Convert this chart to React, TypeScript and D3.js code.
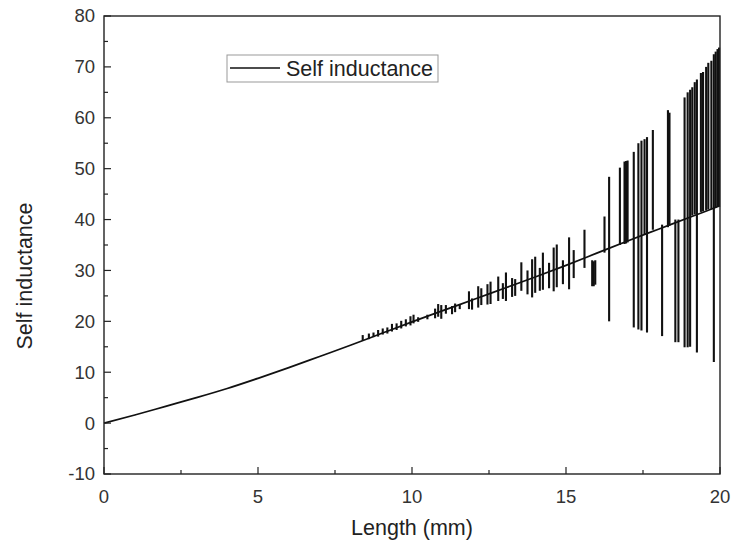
import React from "react";
import * as d3 from "d3";

// smooth part of the curve (Length mm -> Self inductance)
const baseX = [0, 1, 2, 3, 4, 5, 6, 7, 8, 9, 10, 11, 12, 13, 14, 15, 16, 17, 18, 19, 20];
const baseY = [0, 1.6, 3.3, 5.0, 6.8, 8.8, 10.9, 13.1, 15.3, 17.6, 19.9, 22.1, 24.3, 26.5, 28.7, 31.0, 33.4, 35.8, 38.1, 40.4, 42.7];

// noisy jumps: position, top, bottom
const spikeX = [
  8.4, 8.6, 8.75, 8.9, 9.05, 9.2, 9.35, 9.5, 9.65, 9.8, 9.95, 10.05, 10.2, 10.5, 10.75, 10.85, 10.95, 11.1, 11.3, 11.4,
  11.55, 11.85, 11.95, 12.15, 12.25, 12.45, 12.55, 12.8, 12.95, 13.05, 13.25, 13.35, 13.55, 13.75, 13.9, 14.0, 14.15,
  14.25, 14.45, 14.6, 14.7, 14.9, 15.1, 15.25, 15.6, 15.85, 15.9, 15.95, 16.25, 16.4, 16.75, 16.9, 16.95, 17.0, 17.2,
  17.35, 17.45, 17.55, 17.63, 17.82, 18.12, 18.31, 18.36, 18.55, 18.65, 18.85, 18.95, 19.03, 19.1, 19.18, 19.25, 19.38,
  19.45, 19.55, 19.62, 19.72, 19.8, 19.86, 19.92, 19.97,
];
const spikeHi = [
  17.3, 17.6, 17.8, 18.3, 18.6, 18.8, 19.5, 19.6, 20.1, 20.4, 21.0, 21.3, 20.8, 21.3, 22.5, 23.4, 23.2, 23.2, 23.0, 23.5,
  23.3, 25.9, 24.5, 26.9, 26.5, 27.3, 27.8, 28.8, 27.5, 29.6, 28.5, 28.3, 31.6, 30.0, 32.2, 32.7, 30.5,
  33.5, 31.5, 34.5, 35.1, 32.0, 36.5, 34.0, 38.0, 32.0, 31.8, 32.0, 40.6, 48.4, 50.2, 51.4, 51.5, 51.6, 53.3,
  55.0, 55.5, 55.8, 56.2, 57.6, 39.0, 61.5, 61.0, 40.0, 40.0, 64.0, 65.0, 65.5, 66.0, 67.0, 67.5, 68.8,
  69.0, 70.0, 70.8, 71.2, 72.5, 73.0, 73.5, 73.8,
];
const spikeLo = [
  16.2, 16.5, 16.9, 17.0, 17.4, 17.6, 18.0, 18.3, 18.6, 19.0, 19.2, 19.6, 19.9, 20.4, 20.6, 20.9, 20.5, 21.5, 21.4, 21.8,
  22.4, 22.4, 22.3, 22.7, 23.2, 23.3, 23.4, 24.0, 24.4, 24.0, 24.8, 25.0, 26.0, 25.3, 24.7, 25.6, 26.0,
  26.2, 26.5, 25.9, 26.7, 27.3, 26.3, 28.5, 30.5, 26.9, 26.9, 27.2, 33.5, 20.0, 35.0, 35.2, 35.3, 35.5, 18.8,
  18.4, 18.2, 37.0, 17.8, 38.0, 17.1, 38.5, 38.8, 15.9, 15.9, 14.9, 14.9, 15.0, 40.8, 41.0, 13.9, 41.5,
  41.6, 41.8, 42.0, 42.0, 12.0, 42.3, 42.5, 42.6,
];

const yTicks = [-10, 0, 10, 20, 30, 40, 50, 60, 70, 80];
const xTicks = [0, 5, 10, 15, 20];

const W = 732;
const H = 547;
const m = { left: 104, right: 12, top: 16, bottom: 73 };
const font = "'Liberation Sans', Arial, sans-serif";

const App = () => {
  const x = d3.scaleLinear().domain([0, 20]).range([m.left, W - m.right]);
  const y = d3.scaleLinear().domain([-10, 80]).range([H - m.bottom, m.top]);

  const line = d3
    .line<number>()
    .x((d, i) => x(baseX[i]))
    .y((d) => y(d))
    .curve(d3.curveMonotoneX);

  const minorY = d3.range(-5, 80, 10);
  const minorX = d3.range(2.5, 20, 5);
  const x0 = x(0);
  const y0 = y(-10);

  return (
    <svg width={W} height={H} style={{ position: "absolute", left: 0, top: 0, background: "#fff" }}>
      <path d={line(baseY) || ""} fill="none" stroke="#111" strokeWidth={1.7} />
      {spikeX.map((sx, i) => (
        <line
          key={i}
          x1={x(sx)}
          x2={x(sx)}
          y1={y(spikeHi[i])}
          y2={y(spikeLo[i])}
          stroke="#111"
          strokeWidth={2.1}
        />
      ))}

      <rect
        x={x(0)}
        y={y(80)}
        width={x(20) - x(0)}
        height={y(-10) - y(80)}
        fill="none"
        stroke="#222"
        strokeWidth={1.4}
      />

      {yTicks.map((t) => (
        <g key={"y" + t}>
          <line x1={x0} x2={x0 + 7} y1={y(t)} y2={y(t)} stroke="#222" strokeWidth={1.2} />
          <text
            x={x0 - 9}
            y={y(t)}
            dy="0.35em"
            textAnchor="end"
            fontFamily={font}
            fontSize={18.5}
            fill="#333"
          >
            {t}
          </text>
        </g>
      ))}
      {minorY.map((t) => (
        <line key={"my" + t} x1={x0} x2={x0 + 4} y1={y(t)} y2={y(t)} stroke="#222" strokeWidth={1.2} />
      ))}

      {xTicks.map((t) => (
        <g key={"x" + t}>
          <line x1={x(t)} x2={x(t)} y1={y0} y2={y0 - 7} stroke="#222" strokeWidth={1.2} />
          <text x={x(t)} y={y0 + 29} textAnchor="middle" fontFamily={font} fontSize={18.5} fill="#333">
            {t}
          </text>
        </g>
      ))}
      {minorX.map((t) => (
        <line key={"mx" + t} x1={x(t)} x2={x(t)} y1={y0} y2={y0 - 4} stroke="#222" strokeWidth={1.2} />
      ))}

      <text x={412} y={535} textAnchor="middle" fontFamily={font} fontSize={21.5} fill="#222">
        Length (mm)
      </text>
      <text
        transform={`translate(32, 276) rotate(-90)`}
        textAnchor="middle"
        fontFamily={font}
        fontSize={21.5}
        fill="#222"
      >
        Self inductance
      </text>

      {/* legend */}
      <rect x={227} y={55} width={211} height={27} fill="#fff" stroke="#999" strokeWidth={1} />
      <line x1={230} x2={280} y1={68} y2={68} stroke="#111" strokeWidth={1.7} />
      <text x={286} y={76} fontFamily={font} fontSize={21.5} fill="#222">
        Self inductance
      </text>
    </svg>
  );
};

export default App;
